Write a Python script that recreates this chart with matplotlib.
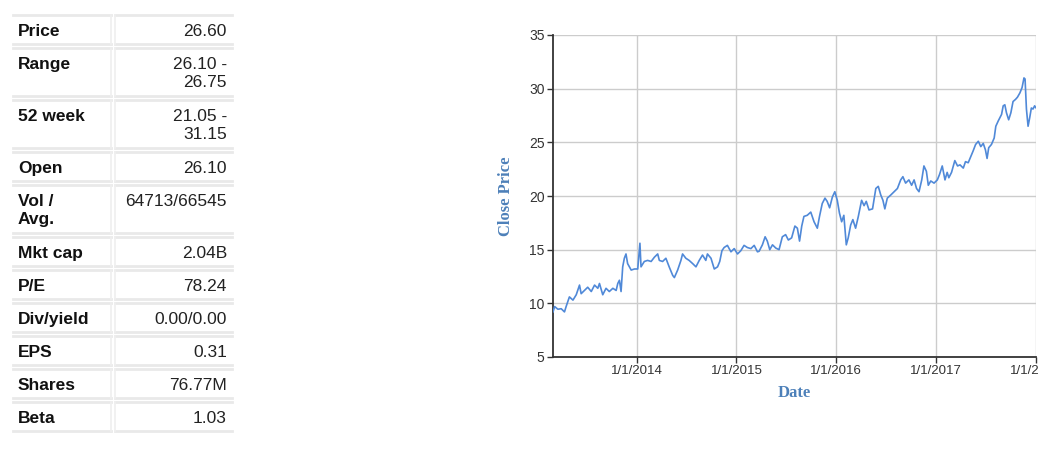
import matplotlib
matplotlib.use("Agg")
import matplotlib.pyplot as plt
from matplotlib.patches import Rectangle
from matplotlib.lines import Line2D
import datetime as dt

# ---------------- data ----------------
table_labels = ["Price", "Range", "52 week", "Open", "Vol /\nAvg.", "Mkt cap",
                "P/E", "Div/yield", "EPS", "Shares", "Beta"]
table_values = ["26.60", "26.10 -\n26.75", "21.05 -\n31.15", "26.10", "64713/66545",
                "2.04B", "78.24", "0.00/0.00", "0.31", "76.77M", "1.03"]

price_dates = [
    "2013-03-01", "2013-03-07", "2013-03-19", "2013-03-31", "2013-04-12", "2013-04-18",
    "2013-04-30", "2013-05-13", "2013-05-25", "2013-06-06", "2013-06-12", "2013-06-24",
    "2013-07-06", "2013-07-19", "2013-07-31", "2013-08-12", "2013-08-18", "2013-08-30",
    "2013-09-11", "2013-09-23", "2013-10-06", "2013-10-18", "2013-10-24", "2013-10-30",
    "2013-11-05", "2013-11-11", "2013-11-17", "2013-11-23", "2013-11-29", "2013-12-12",
    "2013-12-24", "2014-01-05", "2014-01-13", "2014-01-17", "2014-01-29", "2014-02-10",
    "2014-02-23", "2014-03-07", "2014-03-19",
    "2014-03-25", "2014-04-06", "2014-04-18", "2014-04-30", "2014-05-13", "2014-05-19",
    "2014-05-31", "2014-06-12", "2014-06-18", "2014-06-30", "2014-07-12", "2014-07-25",
    "2014-08-06", "2014-08-18", "2014-08-30", "2014-09-11", "2014-09-17", "2014-09-30",
    "2014-10-12", "2014-10-24", "2014-11-01", "2014-11-09", "2014-11-17", "2014-11-29",
    "2014-12-12", "2014-12-24", "2015-01-05", "2015-01-17", "2015-01-29", "2015-02-10",
    "2015-02-23", "2015-03-07", "2015-03-19",
    "2015-03-25", "2015-04-06", "2015-04-16", "2015-04-24", "2015-05-03", "2015-05-13",
    "2015-05-25", "2015-06-06", "2015-06-18", "2015-06-30", "2015-07-10", "2015-07-22",
    "2015-08-03", "2015-08-12", "2015-08-20", "2015-08-28", "2015-09-05", "2015-09-17",
    "2015-09-30", "2015-10-12", "2015-10-24", "2015-11-01", "2015-11-11", "2015-11-21",
    "2015-11-29", "2015-12-08", "2015-12-18", "2015-12-27", "2016-01-05", "2016-01-13",
    "2016-01-21", "2016-01-29", "2016-02-07", "2016-02-14", "2016-02-23", "2016-03-02",
    "2016-03-12", "2016-03-22",
    "2016-04-03", "2016-04-12", "2016-04-20", "2016-04-30", "2016-05-13", "2016-05-25",
    "2016-06-03", "2016-06-12", "2016-06-20", "2016-06-27", "2016-07-06", "2016-07-19",
    "2016-07-31", "2016-08-12", "2016-08-24", "2016-09-01", "2016-09-11", "2016-09-23",
    "2016-10-03", "2016-10-12", "2016-10-21", "2016-10-30", "2016-11-09", "2016-11-17",
    "2016-11-26", "2016-12-03", "2016-12-12", "2016-12-24", "2017-01-05", "2017-01-13",
    "2017-01-23", "2017-02-02", "2017-02-10", "2017-02-16", "2017-02-26", "2017-03-10",
    "2017-03-20", "2017-03-29", "2017-04-10", "2017-04-18", "2017-04-28", "2017-05-08",
    "2017-05-16", "2017-05-25", "2017-06-04", "2017-06-13", "2017-06-22", "2017-06-30",
    "2017-07-06", "2017-07-12", "2017-07-22", "2017-08-01", "2017-08-07", "2017-08-16",
    "2017-08-22", "2017-08-28", "2017-09-03", "2017-09-09", "2017-09-15", "2017-09-23",
    "2017-10-01", "2017-10-09", "2017-10-18", "2017-10-25", "2017-11-03", "2017-11-11",
    "2017-11-18", "2017-11-22", "2017-11-27", "2017-12-03", "2017-12-09", "2017-12-15",
    "2017-12-21", "2017-12-27", "2018-01-01", "2018-01-08",
]
close_prices = [
    9.2, 9.7, 9.45, 9.5, 9.2, 9.7,
    10.6, 10.3, 10.8, 11.7, 10.9, 11.2,
    11.5, 11.1, 11.7, 11.4, 11.85, 10.8,
    11.4, 11.1, 11.4, 11.2, 11.85, 12.15,
    11.1, 13.4, 14.2, 14.6, 13.7, 13.1,
    13.2, 13.2, 15.6, 13.4, 13.9, 14.0,
    13.9, 14.3, 14.6,
    14.0, 13.9, 14.2, 13.4, 12.6, 12.4,
    13.1, 14.0, 14.6, 14.2, 14.0, 13.7,
    13.4, 14.0, 14.5, 14.0, 14.6, 14.2,
    13.2, 13.4, 13.9, 14.9, 15.2, 15.4,
    14.8, 15.1, 14.6, 14.9, 15.4, 15.2,
    15.1, 15.4, 14.8,
    14.85, 15.45, 16.2, 15.8, 15.0, 15.45,
    15.15, 15.0, 16.2, 16.4, 15.9, 16.1,
    17.2, 17.0, 15.8, 17.2, 18.1, 18.2,
    18.5, 17.6, 17.0, 18.1, 19.3, 19.8,
    19.5, 18.9, 19.9, 20.4, 19.6, 18.4,
    17.6, 18.2, 15.45, 16.1, 17.3, 17.8,
    17.0, 18.1,
    19.6, 19.1, 19.5, 18.7, 18.8, 20.7,
    20.9, 20.1, 19.6, 18.8, 19.8, 20.1,
    20.4, 20.7, 21.5, 21.8, 21.2, 21.5,
    21.0, 21.5, 20.7, 20.4, 21.5, 22.8,
    22.3, 21.0, 21.4, 21.2, 21.5, 22.0,
    22.8, 21.5, 22.2, 21.7, 22.2, 23.3,
    22.8, 22.9, 22.6, 23.2, 23.1, 23.7,
    24.2, 24.8, 25.1, 24.6, 24.9, 24.3,
    23.5, 24.5, 24.8, 25.4, 26.5, 27.0,
    27.3, 27.6, 28.4, 28.5, 27.75, 27.1,
    27.75, 28.8, 29.0, 29.2, 29.6, 30.1,
    31.0, 30.9, 28.1, 26.5, 27.3, 28.2,
    28.1, 28.4, 28.2, 28.5,
]
x_tick_dates = ["2014-01-01", "2015-01-01", "2016-01-01", "2017-01-01", "2018-01-01"]
x_tick_labels = ["1/1/2014", "1/1/2015", "1/1/2016", "1/1/2017", "1/1/2018"]
y_ticks = [5, 10, 15, 20, 25, 30, 35]

# ---------------- figure ----------------
W, H = 1053, 449
fig = plt.figure(figsize=(W / 100, H / 100), dpi=100)
fig.patch.set_facecolor("white")


def fx(x):
    return x / W


def fy(y):
    return 1 - y / H


# ---- table ----
border = "#e9e9e9"
col1 = (13, 111)
col2 = (115, 232)
single_h, line_h, gap = 29, 19, 4
top = 15
for lab, val in zip(table_labels, table_values):
    nlines = max(lab.count("\n"), val.count("\n")) + 1
    h = single_h + line_h * (nlines - 1)
    bottom = top + h
    for (x0, x1) in (col1, col2):
        for yy in (top, bottom):
            fig.add_artist(Line2D([fx(x0), fx(x1)], [fy(yy), fy(yy)],
                                  transform=fig.transFigure, color=border, lw=2.0))
    fig.add_artist(Line2D([fx(col1[1]), fx(col1[1])], [fy(top), fy(bottom)],
                          transform=fig.transFigure, color="#efefef", lw=1.2))
    fig.add_artist(Line2D([fx(col2[0]), fx(col2[0])], [fy(top), fy(bottom)],
                          transform=fig.transFigure, color="#efefef", lw=1.2))
    for i, s in enumerate(lab.split("\n")):
        fig.text(fx(18), fy(top + 21 + i * 18), s, ha="left", va="baseline",
                 fontsize=12.5, fontweight="bold", color="#111111",
                 family="Liberation Sans")
    for i, s in enumerate(val.split("\n")):
        fig.text(fx(227), fy(top + 21 + i * 18), s, ha="right", va="baseline",
                 fontsize=12.5, color="#222222", family="Liberation Sans")
    top = bottom + gap

# ---- chart ----
ax = fig.add_axes([fx(553), fy(357), fx(1036) - fx(553), fy(35) - fy(357)])
dates = [dt.datetime.strptime(d, "%Y-%m-%d") for d in price_dates]
ax.plot(dates, close_prices, color="#5089d8", lw=1.2, zorder=3)

ax.set_ylim(5, 35)
ax.set_xlim(dt.datetime(2013, 3, 1), dt.datetime(2018, 1, 1))
ax.set_yticks(y_ticks)
ax.set_xticks([dt.datetime.strptime(d, "%Y-%m-%d") for d in x_tick_dates])
ax.set_xticklabels(x_tick_labels)

ax.grid(True, color="#cccccc", lw=1.0, zorder=0)
for s in ("top", "right"):
    ax.spines[s].set_visible(False)
for s in ("left", "bottom"):
    ax.spines[s].set_color("#333333")
    ax.spines[s].set_linewidth(1.3)
ax.tick_params(axis="x", direction="out", length=4, width=1, color="#333333",
               labelcolor="#333333", labelsize=9.5, pad=1.5)
ax.tick_params(axis="y", direction="out", length=4, width=1, color="#333333",
               labelcolor="#333333", labelsize=10, pad=2)
for t in ax.get_xticklabels() + ax.get_yticklabels():
    t.set_family("Liberation Sans")

label_color = "#4d80b9"
ax.set_xlabel("Date", family="Liberation Serif", fontweight="bold", fontsize=12,
              color=label_color, labelpad=6)
ax.set_ylabel("Close Price", family="Liberation Serif", fontweight="bold", fontsize=12,
              color=label_color, labelpad=11)

# white mask to cut the last tick label at the chart edge
fig.add_artist(Rectangle((fx(1038), fy(385)), fx(W) - fx(1038), fy(358) - fy(385),
                         transform=fig.transFigure, facecolor="white",
                         edgecolor="none", zorder=10))

fig.savefig("out.png", dpi=100, facecolor="white")
